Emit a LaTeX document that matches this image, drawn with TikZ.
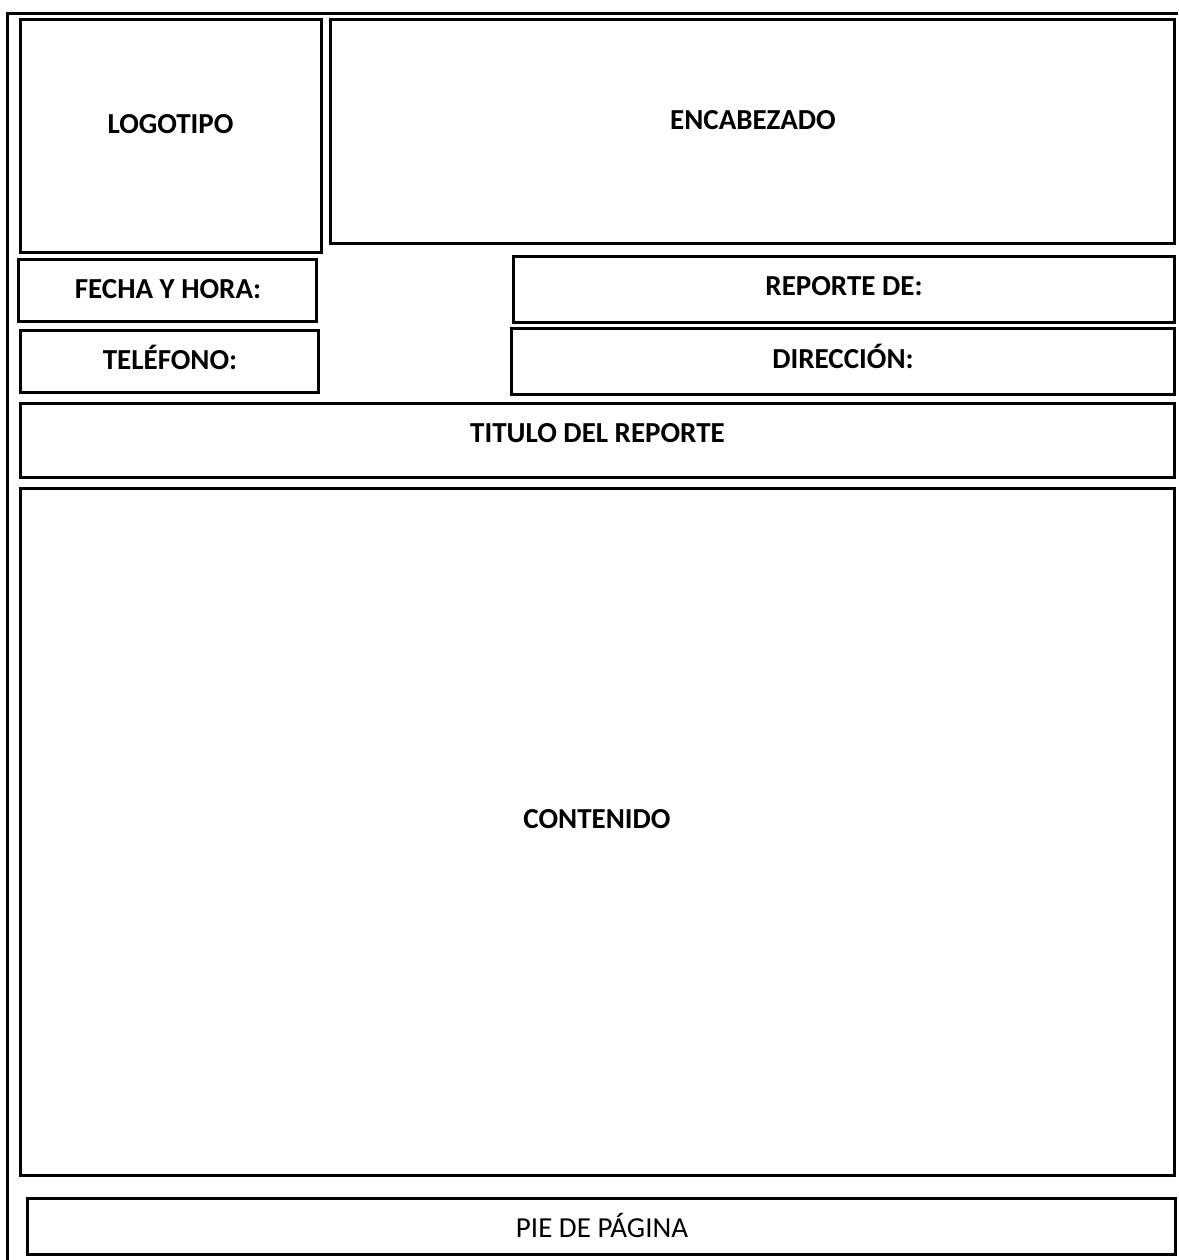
\documentclass[tikz,border=0pt]{standalone}
\usepackage{fontspec}
\setmainfont{Carlito}
\usetikzlibrary{fit}
\tikzset{
  box/.style={draw=black, line width=3pt, inner sep=0pt, rectangle},
  frame/.style={draw=black, line width=3pt},
  lbl/.style={anchor=base, inner sep=0pt, font=\fontsize{29}{34}\selectfont\bfseries},
  lblreg/.style={anchor=base, inner sep=0pt, font=\fontsize{29}{34}\selectfont},
}
\begin{document}
\begin{tikzpicture}[x=1pt,y=-1pt]
\useasboundingbox (0,0) rectangle (1178,1260);
% outer frame (only top and left edges are visible)
\coordinate (fbl) at (7.5,1260);
\coordinate (ftl) at (7.5,13.3);
\coordinate (ftr) at (1178,13.3);
\draw[frame] (fbl) -- (ftl) -- (ftr);
% boxes
\node[box, fit={(20.5,19.2) (321.3,252)}] (logo) {};
\node[box, fit={(330.3,19.2) (1174,243)}] (enc) {};
\node[box, fit={(18.7,259.7) (316.3,321.3)}] (fecha) {};
\node[box, fit={(513,256.2) (1174.7,322)}] (rep) {};
\node[box, fit={(20.3,330.3) (318.7,392)}] (tel) {};
\node[box, fit={(511.3,328.7) (1174,394.7)}] (dir) {};
\node[box, fit={(20.3,403) (1174,477.8)}] (tit) {};
\node[box, fit={(20.5,488.7) (1174,1175)}] (cont) {};
\node[box, fit={(27.7,1198) (1175.3,1254)}] (pie) {};
% labels
\node[lbl] (tlogo) at (170.5,134) {LOGOTIPO};
\node[lbl] (tenc) at (753,129.3) {ENCABEZADO};
\node[lbl] (tfecha) at (168,298) {FECHA Y HORA:};
\node[lbl] (trep) at (844,295) {REPORTE DE:};
\node[lbl] (ttel) at (170,369) {TELÉFONO:};
\node[lbl] (tdir) at (843,368) {DIRECCIÓN:};
\node[lbl] (ttit) at (597.5,442) {TITULO DEL REPORTE};
\node[lbl] (tcont) at (597,828) {CONTENIDO};
\node[lblreg] (tpie) at (602,1237) {PIE DE PÁGINA};
\end{tikzpicture}
\end{document}
